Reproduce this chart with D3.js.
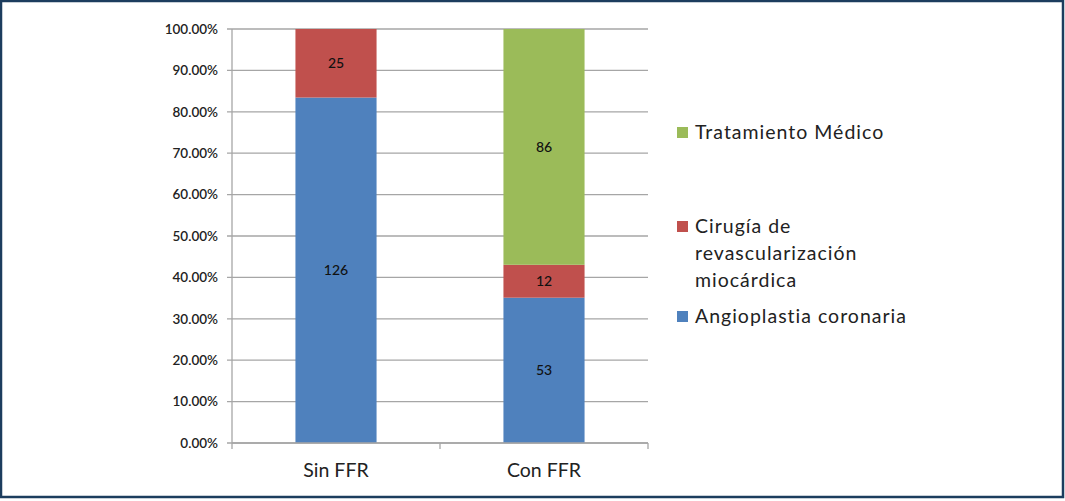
<!DOCTYPE html>
<html><head><meta charset="utf-8">
<script src="https://cdn.jsdelivr.net/npm/d3@7"></script>
<style>
html,body{margin:0;padding:0;background:#fff;}
svg{display:block;font-family:Lato,"Open Sans",sans-serif;}
</style></head>
<body>
<svg id="c" width="1065" height="501"></svg>
<script>
const categories = ["Sin FFR", "Con FFR"];
const seriesNames = ["Angioplastia coronaria", "Cirugía de revascularización miocárdica", "Tratamiento Médico"];
const angioplastia = [126, 53];
const cirugia = [25, 12];
const tratamiento = [0, 86];
const yTicks = [0, 0.1, 0.2, 0.3, 0.4, 0.5, 0.6, 0.7, 0.8, 0.9, 1.0];
const colors = ["#4f81bd", "#c0504d", "#9bbb59"];
const legendLines = [["Tratamiento Médico"], ["Cirugía de", "revascularización", "miocárdica"], ["Angioplastia coronaria"]];

(function(){
const svg = d3.select("#c");
svg.append("rect").attr("x",1).attr("y",1).attr("width",1062).attr("height",496)
  .attr("fill","#fff").attr("stroke","#1c3d5e").attr("stroke-width",2.5);

const pL = 232, pR = 648, pT = 29, pB = 443;
const x = d3.scaleBand().domain(categories).range([pL, pR]).paddingInner(0.61).paddingOuter(0.305);
const y = d3.scaleLinear().domain([0, 1]).range([pB, pT]);

const rows = categories.map((c, i) => {
  const vals = [angioplastia[i], cirugia[i], tratamiento[i]];
  const total = d3.sum(vals);
  const o = {cat: c};
  seriesNames.forEach((s, j) => o[s] = vals[j] / total);
  o.counts = vals;
  return o;
});
const stack = d3.stack().keys(seriesNames)(rows);

svg.append("g").selectAll("line").data(yTicks).join("line")
  .attr("x1", pL - 5).attr("x2", pR).attr("y1", d => y(d)).attr("y2", d => y(d))
  .attr("stroke", "#a6a6a6").attr("stroke-width", 1.3);

svg.append("line").attr("x1", pL).attr("x2", pL).attr("y1", pT).attr("y2", pB)
  .attr("stroke", "#a6a6a6").attr("stroke-width", 1.3);

svg.append("g").selectAll("text").data(yTicks).join("text")
  .attr("x", 218).attr("y", d => y(d)).attr("dy", "0.35em").attr("text-anchor", "end")
  .attr("font-size", 13.5).attr("font-weight", 600).attr("fill", "#222")
  .text(d => d3.format(".2%")(d));

stack.forEach((layer, j) => {
  svg.append("g").selectAll("rect").data(layer).join("rect")
    .attr("x", d => x(d.data.cat)).attr("width", x.bandwidth())
    .attr("y", d => y(d[1])).attr("height", d => y(d[0]) - y(d[1]))
    .attr("fill", colors[j]);
  svg.append("g").selectAll("text").data(layer.filter(d => d.data.counts[j] > 0)).join("text")
    .attr("x", d => x(d.data.cat) + x.bandwidth()/2)
    .attr("y", d => (y(d[0]) + y(d[1]))/2).attr("dy", "0.35em")
    .attr("text-anchor", "middle").attr("font-size", 14).attr("font-weight", 500).attr("fill", "#111")
    .text(d => d.data.counts[j]);
});

svg.append("line").attr("x1", pL).attr("x2", pR).attr("y1", pB).attr("y2", pB)
  .attr("stroke", "#a6a6a6").attr("stroke-width", 1.3);
const step = x.step();
[pL, pL + step, pR].forEach(t => {
  svg.append("line").attr("x1", t).attr("x2", t).attr("y1", pB).attr("y2", pB + 6)
    .attr("stroke", "#a6a6a6").attr("stroke-width", 1.3);
});
svg.append("g").selectAll("text").data(categories).join("text")
  .attr("x", d => x(d) + x.bandwidth()/2).attr("y", 470).attr("dy", "0.35em")
  .attr("text-anchor", "middle").attr("font-size", 19.5).attr("fill", "#222")
  .text(d => d);

const legendY = [132, 226, 316];
const legendOrder = [2, 1, 0];
legendOrder.forEach((si, k) => {
  const g = svg.append("g");
  g.append("rect").attr("x", 677).attr("y", legendY[k] - 5).attr("width", 11).attr("height", 11).attr("fill", colors[si]);
  legendLines[k].forEach((ln, li) => {
    g.append("text").attr("x", 695).attr("y", legendY[k] + li * 27).attr("dy", "0.35em")
      .attr("font-size", 19.5).attr("letter-spacing", 1).attr("fill", "#222").text(ln);
  });
});
})();
</script>
</body></html>
